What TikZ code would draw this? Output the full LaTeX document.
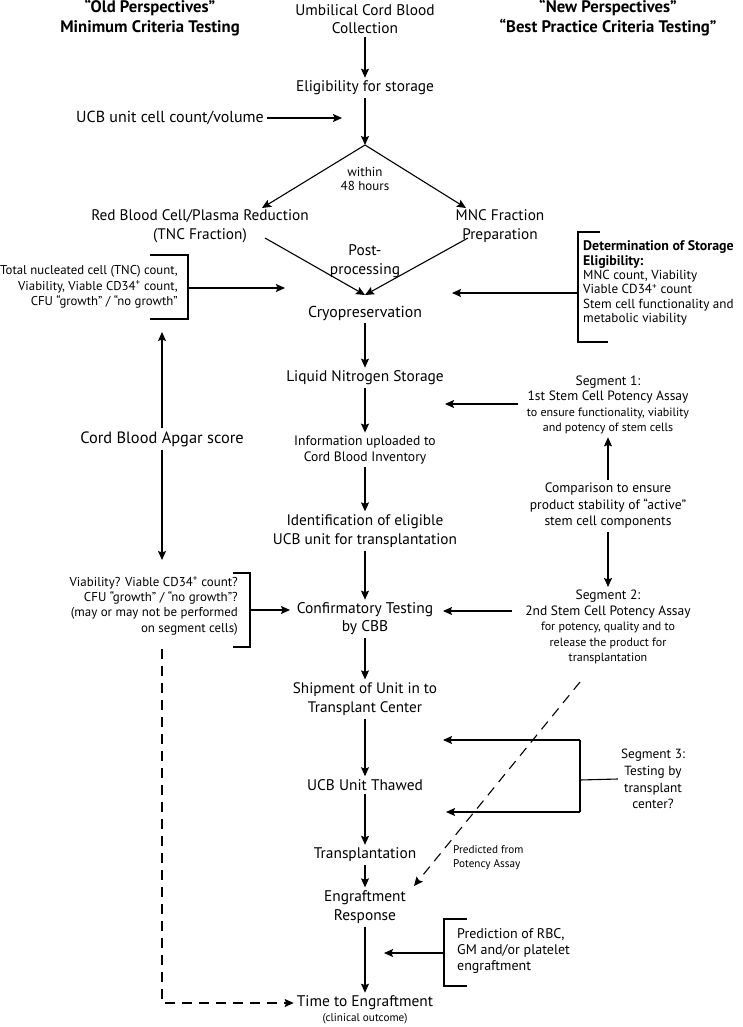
\documentclass[tikz,border=0pt]{standalone}
\usepackage{fontspec}
\setmainfont{PT Sans}
\usetikzlibrary{arrows.meta,calc}
\begin{document}
\begin{tikzpicture}[x=1pt,y=-1pt,
  every node/.style={inner sep=3pt},
  mtxt/.style={align=center,font=\fontsize{15.4}{18.5}\selectfont},
  stxt/.style={align=center,font=\fontsize{12}{15.4}\selectfont},
  ttxt/.style={align=left,font=\fontsize{11.2}{14}\selectfont},
  head/.style={align=center,font=\fontsize{16.7}{20}\selectfont\bfseries},
  arr/.style={line width=1.1pt,-{Stealth[length=9pt,width=8pt,inset=1.5pt]}},
  ln/.style={line width=1.1pt},
  dsh/.style={line width=1.1pt,dash pattern=on 10pt off 7pt}
]
\useasboundingbox (0,0) rectangle (742,1027);

% headings
\node[head] (old) at (150,18) {“Old Perspectives”\\Minimum Criteria Testing};
\node[head] (new) at (608,18) {“New Perspectives”\\“Best Practice Criteria Testing”};

% main column
\node[mtxt] (umb) at (365,19) {Umbilical Cord Blood\\Collection};
\node[mtxt] (elig) at (365,88) {Eligibility for storage};
\coordinate (split) at (365,145);
\node[stxt,font=\fontsize{13}{14.5}\selectfont] (within) at (365,179) {within\\48 hours};
\node[mtxt,font=\fontsize{15.3}{19}\selectfont] (rbc) at (200,226) {Red Blood Cell/Plasma Reduction\\(TNC Fraction)};
\node[mtxt,font=\fontsize{15.3}{19}\selectfont] (mnc) at (500,226) {MNC Fraction\\Preparation};
\node[mtxt] (post) at (365,261) {Post-\\processing};
\node[mtxt,font=\fontsize{15.8}{18}\selectfont] (cryo) at (365,313) {Cryopreservation};
\node[mtxt] (lns) at (365,378) {Liquid Nitrogen Storage};
\node[stxt,font=\fontsize{13.6}{16}\selectfont] (info) at (365,450) {Information uploaded to\\Cord Blood Inventory};
\node[mtxt,font=\fontsize{15.3}{19}\selectfont] (ident) at (365,531) {Identification of eligible\\UCB unit for transplantation};
\node[mtxt,font=\fontsize{15.5}{18}\selectfont] (conf) at (365,619) {Confirmatory Testing\\by CBB};
\node[mtxt,font=\fontsize{15.2}{19}\selectfont] (ship) at (365,699) {Shipment of Unit in to\\Transplant Center};
\node[mtxt] (thaw) at (365,785) {UCB Unit Thawed};
\node[mtxt] (trans) at (365,855) {Transplantation};
\node[mtxt,font=\fontsize{15.4}{19}\selectfont] (engr) at (365,907) {Engraftment\\Response};
\node[mtxt] (time) at (365,1003) {Time to Engraftment};
\node[ttxt] (clin) at (365,1019) {(clinical outcome)};

\draw[arr] (umb) -- (elig);
\draw[arr] (elig) -- (split);
\coordinate (rbcin) at (262,208);
\coordinate (mncin) at (466,208);
\draw[arr] (split) -- (rbcin);
\draw[arr] (split) -- (mncin);
\coordinate (rbcout) at (265,238);
\coordinate (mncout) at (468,238);
\coordinate (cryoin) at (365,295);
\draw[arr] (rbcout) -- (cryoin);
\draw[arr] (mncout) -- (cryoin);
\draw[arr] (cryo) -- (lns);
\draw[arr] (lns) -- (info);
\draw[arr] (info) -- (ident);
\draw[arr] (ident) -- (conf);
\draw[arr] (conf) -- (ship);
\draw[arr] (ship) -- (thaw);
\draw[arr] (thaw) -- (trans);
\draw[arr] (trans) -- (engr);
\draw[arr] (engr) -- (time);

% left column
\node[mtxt,font=\fontsize{16}{18}\selectfont] (ucbc) at (170,118) {UCB unit cell count/volume};
\coordinate (ucbtip) at (342,118);
\draw[arr] (ucbc) -- (ucbtip);

\node[stxt,font=\fontsize{12.8}{15.5}\selectfont,align=right,anchor=east] (tnc) at (181,287) {Total nucleated cell (TNC) count,\\Viability, Viable CD34\textsuperscript{+} count,\\CFU “growth” / “no growth”};
\coordinate (b1a) at (150,255);
\coordinate (b1b) at (188,255);
\coordinate (b1c) at (188,319);
\coordinate (b1d) at (150,319);
\coordinate (b1m) at (188,288);
\coordinate (b1t) at (285,288);
\draw[ln] (b1a) -- (b1b) -- (b1c) -- (b1d);
\draw[arr] (b1m) -- (b1t);

\node[mtxt,font=\fontsize{16.4}{18}\selectfont] (apgar) at (162,439) {Cord Blood Apgar score};
\coordinate (apup) at (162,332);
\coordinate (apdn) at (162,560);
\draw[arr] (apgar) -- (apup);
\draw[arr] (apgar) -- (apdn);

\node[stxt,font=\fontsize{12.9}{15.4}\selectfont,align=right,anchor=east] (via) at (241,606) {Viability? Viable CD34\textsuperscript{+} count?\\CFU “growth” / “no growth”?\\(may or may not be performed\\on segment cells)};
\coordinate (b2a) at (233,573);
\coordinate (b2b) at (250,573);
\coordinate (b2c) at (250,647);
\coordinate (b2d) at (233,647);
\coordinate (b2m) at (250,610);
\coordinate (b2t) at (290,610);
\draw[ln] (b2a) -- (b2b) -- (b2c) -- (b2d);
\draw[arr] (b2m) -- (b2t);

\coordinate (dstart) at (162,649);
\draw[dsh,-{Stealth[length=9pt,width=8pt,inset=1.5pt]}] (dstart) |- (time.west);

% right column
\node[stxt,font=\fontsize{13.1}{14.3}\selectfont,align=left,anchor=west] (det) at (580,283) {{\fontsize{13.9}{14.3}\selectfont\bfseries Determination of Storage}\\{\fontsize{13.9}{14.3}\selectfont\bfseries Eligibility:}\\MNC count, Viability\\Viable CD34\textsuperscript{+} count\\Stem cell functionality and\\metabolic viability};
\coordinate (b3a) at (600,232);
\coordinate (b3b) at (578,232);
\coordinate (b3c) at (578,342);
\coordinate (b3d) at (608,342);
\coordinate (b3m) at (578,293);
\coordinate (b3t) at (452,293);
\draw[ln] (b3a) -- (b3b) -- (b3c) -- (b3d);
\draw[arr] (b3m) -- (b3t);

\node[stxt] (seg1) at (608,405) {{\fontsize{13.5}{15.4}\selectfont Segment 1:}\\{\fontsize{13.5}{15.4}\selectfont 1st Stem Cell Potency Assay}\\to ensure functionality, viability\\and potency of stem cells};
\coordinate (s1o) at (518,404);
\coordinate (s1t) at (445,404);
\draw[arr] (s1o) -- (s1t);

\node[stxt,font=\fontsize{13.6}{16.5}\selectfont] (comp) at (608,506) {Comparison to ensure\\product stability of “active”\\stem cell components};
\node[stxt] (seg2) at (608,627) {{\fontsize{13.5}{15.4}\selectfont Segment 2:}\\{\fontsize{13.5}{15.4}\selectfont 2nd Stem Cell Potency Assay}\\for potency, quality and to\\release the product for\\transplantation};
\draw[arr] (comp) -- (seg1);
\draw[arr] (comp) -- (seg2);
\coordinate (s2o) at (512,611);
\coordinate (s2t) at (443,611);
\draw[arr] (s2o) -- (s2t);

\node[stxt,font=\fontsize{13.3}{16.7}\selectfont] (seg3) at (653,779) {Segment 3:\\Testing by\\transplant\\center?};
\coordinate (s3a) at (580,740);
\coordinate (s3b) at (580,812);
\coordinate (s3m) at (580,780);
\coordinate (s3at) at (443,740);
\coordinate (s3bt) at (446,812);
\draw[ln] (s3a) -- (s3b);
\draw[ln] (s3m) -- (seg3.west);
\draw[arr] (s3a) -- (s3at);
\draw[arr] (s3b) -- (s3bt);

\coordinate (dgs) at (580,682);
\coordinate (dge) at (414,886);
\draw[dsh,-{Stealth[length=9pt,width=8pt,inset=1.5pt]}] (dgs) -- (dge);
\node[ttxt,anchor=west] (pred) at (450,858) {Predicted from\\Potency Assay};

\node[stxt,font=\fontsize{14}{16}\selectfont,align=left,anchor=west] (prd) at (454,951) {Prediction of RBC,\\GM and/or platelet\\engraftment};
\coordinate (b4a) at (467,919);
\coordinate (b4b) at (444,919);
\coordinate (b4c) at (444,986);
\coordinate (b4d) at (467,986);
\coordinate (b4m) at (444,953);
\coordinate (b4t) at (384,953);
\draw[ln] (b4a) -- (b4b) -- (b4c) -- (b4d);
\draw[arr] (b4m) -- (b4t);
\end{tikzpicture}
\end{document}
